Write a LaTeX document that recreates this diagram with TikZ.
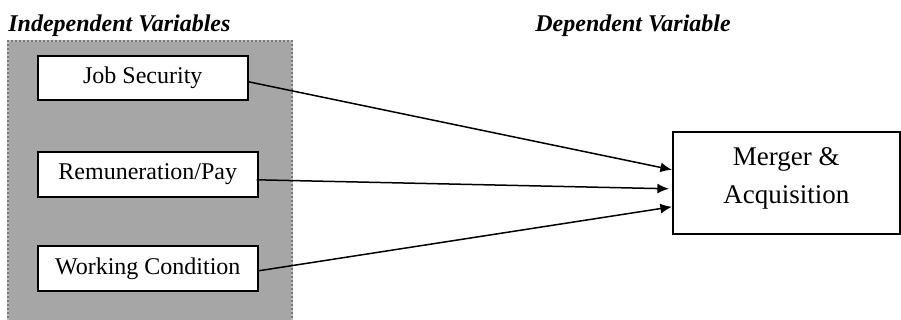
\documentclass[tikz,border=0pt]{standalone}
\usepackage{fontspec}
\setmainfont{Liberation Serif}
\usetikzlibrary{arrows.meta}
\definecolor{panelgray}{RGB}{166,166,166}
\definecolor{dotgray}{RGB}{120,120,120}
\definecolor{edgegray}{RGB}{190,190,190}
\tikzset{
  varbox/.style={draw=black, fill=white, line width=0.8pt, font=\fontsize{12pt}{14pt}\selectfont, inner sep=0pt, anchor=north west},
  title/.style={font=\fontsize{12pt}{14pt}\selectfont\bfseries\itshape, anchor=base west, inner sep=0pt},
  link/.style={line width=0.75pt, -{Latex[length=5.8pt,width=5pt]}}
}
\begin{document}
\begin{tikzpicture}[x=0.5pt,y=-0.5pt]
\useasboundingbox (0,0) rectangle (901,320);
% panel
\fill[panelgray] (8,41) rectangle (292,322);
\draw[edgegray, line width=1.1pt] (8,322) -- (8,41) -- (292,41) -- (292,322);
\draw[dotgray, line width=1.1pt, dash pattern=on 1pt off 1pt] (8,322) -- (8,41) -- (292,41) -- (292,322);
% titles
\node[title] (indep) at (8,32) {Independent Variables};
\node[title] (dep) at (535,32) {Dependent Variable};
% variable boxes
\node[varbox, minimum width=105pt, minimum height=22pt] (job) at (37,55) {Job Security};
\node[varbox, minimum width=110pt, minimum height=22.5pt] (rem) at (37,151) {Remuneration/Pay};
\node[varbox, minimum width=110pt, minimum height=22.5pt] (work) at (37,245) {Working Condition};
% dependent box
\node[draw=black, line width=0.8pt, minimum width=113.5pt, minimum height=51pt, anchor=north west, inner sep=0pt] (mer) at (672,131) {};
\node[font=\fontsize{13.5pt}{19pt}\selectfont, align=center, inner sep=0pt, yshift=2pt] (mertext) at (mer.center) {Merger \&\\Acquisition};
% connectors
\draw[link] ([yshift=-2pt]job.east) -- ([yshift=6.5pt]mer.west);
\draw[link] ([xshift=-1pt,yshift=-2.75pt]rem.east) -- ([xshift=-1.5pt,yshift=-3pt]mer.west);
\draw[link] ([yshift=-1.25pt]work.east) -- ([yshift=-12pt]mer.west);
\end{tikzpicture}
\end{document}
